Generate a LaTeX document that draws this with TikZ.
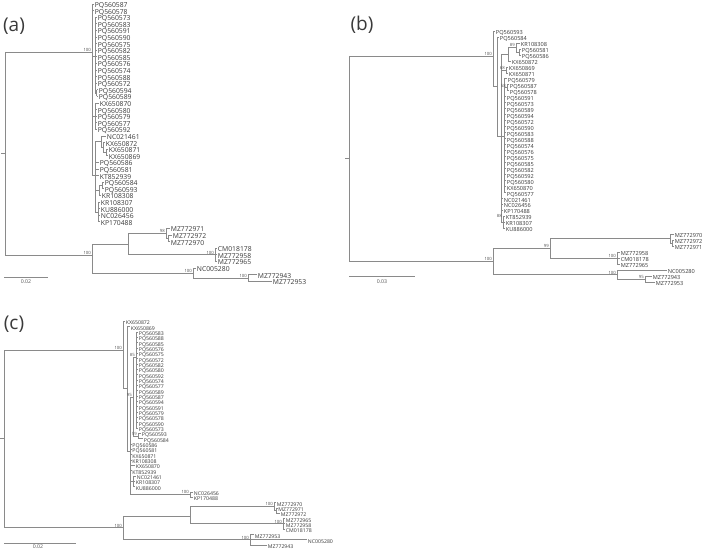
\documentclass[tikz,border=0pt]{standalone}
\usepackage{fontspec}
\setmainfont{Open Sans}
\definecolor{brc}{HTML}{8A8A8A}
\definecolor{txt}{HTML}{3A3A3A}
\definecolor{bsc}{HTML}{555555}
\newcommand\tipAA[4]{\draw[br] (#1,{ya(#3)}) -- (#2,{ya(#3)}); \node[labA] (a#3) at (#2,{ya(#3)}) {#4};}
\newcommand\tipBB[4]{\draw[br] (#1,{yb(#3)}) -- (#2,{yb(#3)}); \node[labB] (b#3) at (#2,{yb(#3)}) {#4};}
\newcommand\tipCC[4]{\draw[br] (#1,{yc(#3)}) -- (#2,{yc(#3)}); \node[labC] (c#3) at (#2,{yc(#3)}) {#4};}
\begin{document}
\begin{tikzpicture}[x=1pt,y=-1pt,
  declare function={ya(\i)=4+6.6*(\i-1); yb(\i)=31+5.98*(\i-1); yc(\i)=321.3+5.33*(\i-1);},
  br/.style={draw=brc, line width=0.7pt},
  labbase/.style={anchor=west, inner sep=0pt, xshift=0.7pt, text=txt, text height=0.714em, text depth=0pt},
  labA/.style={labbase, font=\fontsize{6.8}{7}\selectfont},
  labB/.style={labbase, font=\fontsize{5.6}{6}\selectfont},
  labC/.style={labbase, font=\fontsize{5.2}{6}\selectfont},
  bs/.style={anchor=south east, inner sep=0.4pt, text=bsc, font=\fontsize{4.3}{5}\selectfont},
  scl/.style={anchor=north, inner sep=0.5pt, text=bsc, font=\fontsize{5.2}{6}\selectfont},
  panel/.style={inner sep=0pt, text=txt, font=\fontsize{19}{21}\selectfont}]
\fill[white] (0,0) rectangle (709,553);
\useasboundingbox (0,0) rectangle (709,553);

% ================= panel (a) =================
\node[panel] (pa) at (14,26) {(a)};
\draw[br] (5,52) -- (5,255);
\draw[br] (1,153.5) -- (5,153.5);
\draw[br] (5,52) -- (92,52);
\node[bs] (abs0) at (91.5,52) {100};
\draw[br] (5,255) -- (92,255);
\node[bs] (abs1) at (91.5,255) {100};
% ingroup
\draw[br] (92,{ya(1)}) -- (92,175);
\tipAA{92}{94}{1}{PQ560587}
\tipAA{92}{94}{2}{PQ560578}
\draw[br] (92,56) -- (95,56);
\draw[br] (95,{ya(3)}) -- (95,93.1);
\tipAA{95}{97}{3}{PQ560573}
\tipAA{95}{97}{4}{PQ560583}
\tipAA{95}{97}{5}{PQ560591}
\tipAA{95}{97}{6}{PQ560590}
\tipAA{95}{97}{7}{PQ560575}
\tipAA{95}{97}{8}{PQ560582}
\tipAA{95}{97}{9}{PQ560585}
\tipAA{95}{97}{10}{PQ560576}
\tipAA{95}{97}{11}{PQ560574}
\tipAA{95}{97}{12}{PQ560588}
\tipAA{95}{97}{13}{PQ560572}
\draw[br] (95,93.1) -- (96.5,93.1);
\draw[br] (96.5,{ya(14)}) -- (96.5,{ya(15)});
\tipAA{96.5}{98}{14}{PQ560594}
\tipAA{96.5}{98}{15}{PQ560589}
\draw[br] (92,116.2) -- (95,116.2);
\draw[br] (95,{ya(16)}) -- (95,{ya(20)});
\tipAA{95}{99}{16}{KX650870}
\tipAA{95}{97}{17}{PQ560580}
\tipAA{95}{97}{18}{PQ560579}
\tipAA{95}{97}{19}{PQ560577}
\tipAA{95}{97}{20}{PQ560592}
\draw[br] (92,175) -- (95,175);
\draw[br] (95,141.8) -- (95,211.9);
\draw[br] (95,141.8) -- (101,141.8);
\draw[br] (101,{ya(21)}) -- (101,147.55);
\tipAA{101}{106}{21}{NC021461}
\draw[br] (101,147.55) -- (103,147.55);
\draw[br] (103,{ya(22)}) -- (103,152.5);
\tipAA{103}{105}{22}{KX650872}
\draw[br] (103,152.5) -- (106,152.5);
\draw[br] (106,{ya(23)}) -- (106,{ya(24)});
\tipAA{106}{108}{23}{KX650871}
\tipAA{106}{108}{24}{KX650869}
\tipAA{95}{99}{25}{PQ560586}
\tipAA{95}{99}{26}{PQ560581}
\tipAA{95}{99}{27}{KT852939}
\draw[br] (95,190.45) -- (99,190.45);
\draw[br] (99,185.5) -- (99,{ya(30)});
\draw[br] (99,185.5) -- (102,185.5);
\draw[br] (102,{ya(28)}) -- (102,{ya(29)});
\tipAA{102}{104}{28}{PQ560584}
\tipAA{102}{104}{29}{PQ560593}
\tipAA{99}{101}{30}{KR108308}
\draw[br] (95,211.9) -- (98,211.9);
\draw[br] (98,{ya(31)}) -- (98,{ya(34)});
\tipAA{98}{100}{31}{KR108307}
\tipAA{98}{100}{32}{KU886000}
\tipAA{98}{100}{33}{NC026456}
\tipAA{98}{100}{34}{KP170488}
% outgroup
\draw[br] (92,244.1) -- (92,272.95);
\draw[br] (92,244.1) -- (128,244.1);
\draw[br] (128,233.35) -- (128,254.8);
\draw[br] (128,233.35) -- (166,233.35);
\node[bs] (abs2) at (165.5,233.35) {98};
\draw[br] (166,{ya(35)}) -- (166,238.3);
\tipAA{166}{170}{35}{MZ772971}
\draw[br] (166,238.3) -- (168,238.3);
\draw[br] (168,{ya(36)}) -- (168,{ya(37)});
\tipAA{168}{172}{36}{MZ772972}
\tipAA{168}{170}{37}{MZ772970}
\draw[br] (128,254.8) -- (215,254.8);
\node[bs] (abs3) at (214.5,254.8) {100};
\draw[br] (215,{ya(38)}) -- (215,{ya(40)});
\tipAA{215}{217}{38}{CM018178}
\tipAA{215}{217}{39}{MZ772958}
\tipAA{215}{217}{40}{MZ772965}
\draw[br] (92,272.95) -- (193,272.95);
\node[bs] (abs4) at (192.5,272.95) {100};
\draw[br] (193,{ya(41)}) -- (193,277.9);
\tipAA{193}{196}{41}{NC005280}
\draw[br] (193,277.9) -- (248,277.9);
\node[bs] (abs5) at (247.5,277.9) {100};
\draw[br] (248,{ya(42)}) -- (248,{ya(43)});
\tipAA{248}{257}{42}{MZ772943}
\tipAA{248}{272}{43}{MZ772953}
% scale
\draw[br] (4,277) -- (48,277);
\node[scl] (asc) at (26,279) {0.02};

% ================= panel (b) =================
\node[panel] (pb) at (362,25) {(b)};
\draw[br] (349,56) -- (349,261.6);
\draw[br] (345,158.8) -- (349,158.8);
\draw[br] (349,56) -- (493,56);
\node[bs] (bbs0) at (492.5,56) {100};
\draw[br] (349,261.6) -- (493,261.6);
\node[bs] (bbs1) at (492.5,261.6) {100};
% ingroup
\draw[br] (493,{yb(1)}) -- (493,86.5);
\tipBB{493}{495}{1}{PQ560593}
\draw[br] (493,86.5) -- (497,86.5);
\draw[br] (497,{yb(2)}) -- (497,136);
\tipBB{497}{499}{2}{PQ560584}
\draw[br] (497,136) -- (504,136);
\draw[br] (501,54.2) -- (501,222.35);
\draw[br] (501,54.2) -- (508,54.2);
\draw[br] (508,47.45) -- (508,{yb(6)});
\draw[br] (508,47.45) -- (516,47.45);
\node[bs] (bbs2) at (515.5,47.45) {89};
\draw[br] (516,{yb(3)}) -- (516,51.9);
\tipBB{516}{520}{3}{KR108308}
\draw[br] (516,51.9) -- (519,51.9);
\draw[br] (519,{yb(4)}) -- (519,{yb(5)});
\tipBB{519}{521}{4}{PQ560581}
\tipBB{519}{521}{5}{PQ560586}
\tipBB{508}{511}{6}{KX650872}
\draw[br] (501,69.9) -- (506,69.9);
\node[bs] (bbs3) at (505.5,69.9) {68};
\draw[br] (506,{yb(7)}) -- (506,{yb(8)});
\tipBB{506}{508}{7}{KX650869}
\tipBB{506}{508}{8}{KX650871}
\draw[br] (504,{yb(9)}) -- (504,{yb(28)});
\tipBB{504}{507}{9}{PQ560579}
\draw[br] (504,87.8) -- (507,87.8);
\node[bs] (bbs4) at (506.5,87.8) {58};
\draw[br] (507,{yb(10)}) -- (507,{yb(11)});
\tipBB{507}{509}{10}{PQ560587}
\tipBB{507}{509}{11}{PQ560578}
\tipBB{504}{506}{12}{PQ560591}
\tipBB{504}{506}{13}{PQ560573}
\tipBB{504}{506}{14}{PQ560589}
\tipBB{504}{506}{15}{PQ560594}
\tipBB{504}{506}{16}{PQ560572}
\tipBB{504}{506}{17}{PQ560590}
\tipBB{504}{506}{18}{PQ560583}
\tipBB{504}{506}{19}{PQ560588}
\tipBB{504}{506}{20}{PQ560574}
\tipBB{504}{506}{21}{PQ560576}
\tipBB{504}{506}{22}{PQ560575}
\tipBB{504}{506}{23}{PQ560585}
\tipBB{504}{506}{24}{PQ560582}
\tipBB{504}{506}{25}{PQ560592}
\tipBB{504}{506}{26}{PQ560580}
\tipBB{504}{506}{27}{KX650870}
\tipBB{504}{506}{28}{PQ560577}
\tipBB{501}{503}{29}{NC021461}
\tipBB{501}{503}{30}{NC026456}
\tipBB{501}{503}{31}{KP170488}
\draw[br] (501,222.35) -- (503,222.35);
\node[bs] (bbs5) at (502.5,218) {88};
\draw[br] (503,{yb(32)}) -- (503,{yb(34)});
\tipBB{503}{505}{32}{KT852939}
\tipBB{503}{505}{33}{KR108307}
\tipBB{503}{505}{34}{KU886000}
% outgroup
\draw[br] (493,248.5) -- (493,274.7);
\draw[br] (493,248.5) -- (550,248.5);
\node[bs] (bbs6) at (549.5,248.5) {99};
\draw[br] (550,238.8) -- (550,258.2);
\draw[br] (550,238.8) -- (670,238.8);
\draw[br] (670,{yb(35)}) -- (670,243.25);
\tipBB{670}{674}{35}{MZ772970}
\draw[br] (670,243.25) -- (672,243.25);
\draw[br] (672,{yb(36)}) -- (672,{yb(37)});
\tipBB{672}{674}{36}{MZ772972}
\tipBB{672}{674}{37}{MZ772971}
\draw[br] (550,258.2) -- (617,258.2);
\node[bs] (bbs7) at (616.5,258.2) {100};
\draw[br] (617,{yb(38)}) -- (617,{yb(40)});
\tipBB{617}{620}{38}{MZ772958}
\tipBB{617}{620}{39}{CM018178}
\tipBB{617}{620}{40}{MZ772965}
\draw[br] (493,274.7) -- (617,274.7);
\node[bs] (bbs8) at (616.5,274.7) {100};
\draw[br] (617,{yb(41)}) -- (617,279.15);
\tipBB{617}{667}{41}{NC005280}
\draw[br] (617,279.15) -- (645,279.15);
\node[bs] (bbs9) at (644.5,279.15) {95};
\draw[br] (645,{yb(42)}) -- (645,{yb(43)});
\tipBB{645}{652}{42}{MZ772943}
\tipBB{645}{655}{43}{MZ772953}
% scale
\draw[br] (349,276) -- (415,276);
\node[scl] (bsc) at (382,279) {0.03};

% ================= panel (c) =================
\node[panel] (pc) at (14,324) {(c)};
\draw[br] (4,350) -- (4,527.7);
\draw[br] (0,438.8) -- (4,438.8);
\draw[br] (4,350) -- (123,350);
\node[bs] (cbs0) at (122.5,350) {100};
\draw[br] (4,527.7) -- (123,527.7);
\node[bs] (cbs1) at (122.5,527.7) {100};
% ingroup
\draw[br] (123,{yc(1)}) -- (123,388.8);
\tipCC{123}{125}{1}{KX650872}
\draw[br] (123,388.8) -- (127,388.8);
\draw[br] (127,{yc(2)}) -- (127,451);
\tipCC{127}{130}{2}{KX650869}
\draw[br] (127,451) -- (130,451);
\draw[br] (130,397) -- (130,494.55);
\draw[br] (130,397) -- (133,397);
\node[bs] (cbs2) at (132.5,397) {95};
\draw[br] (133,357) -- (133,436);
\draw[br] (133,357) -- (136,357);
\node[bs] (cbs3) at (135.5,357) {85};
\draw[br] (136,{yc(3)}) -- (136,{yc(21)});
\tipCC{136}{138}{3}{PQ560583}
\tipCC{136}{138}{4}{PQ560588}
\tipCC{136}{138}{5}{PQ560585}
\tipCC{136}{138}{6}{PQ560576}
\tipCC{136}{138}{7}{PQ560575}
\tipCC{136}{138}{8}{PQ560572}
\tipCC{136}{138}{9}{PQ560582}
\tipCC{136}{138}{10}{PQ560580}
\tipCC{136}{138}{11}{PQ560592}
\tipCC{136}{138}{12}{PQ560574}
\tipCC{136}{138}{13}{PQ560577}
\tipCC{136}{138}{14}{PQ560589}
\tipCC{136}{138}{15}{PQ560587}
\tipCC{136}{138}{16}{PQ560594}
\tipCC{136}{138}{17}{PQ560591}
\tipCC{136}{138}{18}{PQ560579}
\tipCC{136}{138}{19}{PQ560578}
\tipCC{136}{138}{20}{PQ560590}
\tipCC{136}{138}{21}{PQ560573}
\draw[br] (133,436) -- (138,436);
\node[bs] (cbs4) at (137.5,436) {59};
\draw[br] (138,{yc(22)}) -- (138,{yc(23)});
\tipCC{138}{141}{22}{PQ560593}
\tipCC{138}{143}{23}{PQ560584}
\tipCC{130}{131.5}{24}{PQ560586}
\tipCC{130}{131.5}{25}{PQ560581}
\tipCC{130}{131.5}{26}{KX650871}
\tipCC{130}{131.5}{27}{KR108308}
\tipCC{130}{135}{28}{KX650870}
\tipCC{130}{131.5}{29}{KT852939}
\draw[br] (130,481.2) -- (133,481.2);
\draw[br] (133,{yc(30)}) -- (133,{yc(32)});
\tipCC{133}{136}{30}{NC021461}
\tipCC{133}{135}{31}{KR108307}
\tipCC{133}{135}{32}{KU886000}
\draw[br] (130,494.55) -- (190,494.55);
\node[bs] (cbs5) at (189.5,494.55) {100};
\draw[br] (190,{yc(33)}) -- (190,{yc(34)});
\tipCC{190}{193}{33}{NC026456}
\tipCC{190}{193}{34}{KP170488}
% outgroup
\draw[br] (123,516.5) -- (123,539.8);
\draw[br] (123,516.5) -- (190,516.5);
\draw[br] (190,506.5) -- (190,523.8);
\draw[br] (190,506.5) -- (274,506.5);
\node[bs] (cbs6) at (273.5,506.5) {100};
\draw[br] (274,{yc(35)}) -- (274,510.5);
\tipCC{274}{276}{35}{MZ772970}
\draw[br] (274,510.5) -- (276,510.5);
\draw[br] (276,{yc(36)}) -- (276,{yc(37)});
\tipCC{276}{277.5}{36}{MZ772971}
\tipCC{276}{280}{37}{MZ772972}
\draw[br] (190,523.8) -- (283,523.8);
\node[bs] (cbs7) at (282.5,523.8) {100};
\draw[br] (283,{yc(38)}) -- (283,{yc(40)});
\tipCC{283}{285}{38}{MZ772965}
\tipCC{283}{285}{39}{MZ772958}
\tipCC{283}{285}{40}{CM018178}
\tipCC{123}{307}{42}{NC005280}
\node[bs] (cbs8) at (249.5,539.8) {100};
\draw[br] (250,{yc(41)}) -- (250,{yc(43)});
\tipCC{250}{254}{41}{MZ772953}
\tipCC{250}{267}{43}{MZ772943}
% scale
\draw[br] (4,543) -- (76,543);
\node[scl] (csc) at (38,544.5) {0.02};
\end{tikzpicture}
\end{document}
